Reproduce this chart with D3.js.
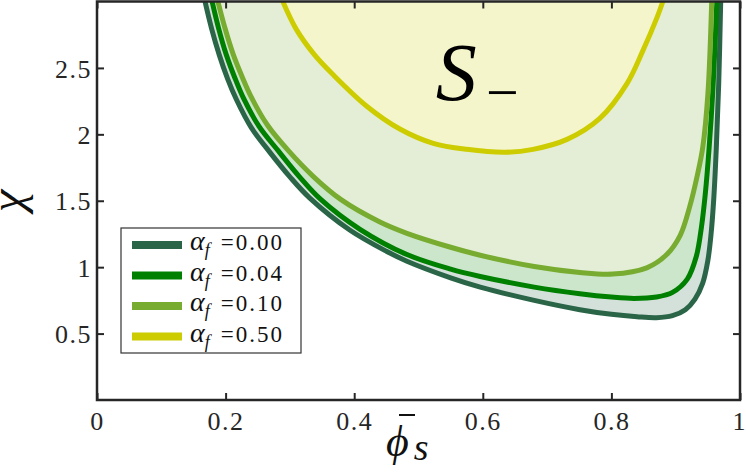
<!DOCTYPE html>
<html>
<head>
<meta charset="utf-8">
<script src="https://cdn.jsdelivr.net/npm/d3@7"></script>
<style>
  html, body { margin: 0; padding: 0; background: #fff; }
  svg { display: block; }
  text { font-family: "Liberation Serif", "Times New Roman", serif; }
</style>
</head>
<body>
<svg id="chart" width="746" height="472"></svg>
<script>
// ---------------- data ----------------
const alphaF = ["0.00", "0.04", "0.10", "0.50"];
const lineColors = ["#2a6548", "#008000", "#77ac30", "#cccc00"];
const fillColors = ["#d4e0da", "#cce6cc", "#e4eed6", "#f5f5cc"];

const phi000 = [0.168, 0.178, 0.190, 0.203, 0.217, 0.240, 0.268, 0.300, 0.331, 0.393, 0.450, 0.482, 0.550, 0.596, 0.680, 0.751, 0.800, 0.840, 0.870, 0.895, 0.915, 0.930, 0.942, 0.950, 0.955, 0.959, 0.963, 0.967, 0.970];
const chi000 = [3.00, 2.80, 2.60, 2.42, 2.26, 2.05, 1.87, 1.68, 1.52, 1.28, 1.12, 1.045, 0.92, 0.85, 0.75, 0.68, 0.645, 0.627, 0.620, 0.635, 0.68, 0.76, 0.88, 1.05, 1.25, 1.50, 1.88, 2.40, 3.00];

const phi004 = [0.179, 0.189, 0.201, 0.214, 0.228, 0.252, 0.282, 0.315, 0.348, 0.409, 0.482, 0.550, 0.596, 0.680, 0.751, 0.800, 0.835, 0.870, 0.895, 0.918, 0.932, 0.940, 0.946, 0.952, 0.958, 0.964];
const chi004 = [3.00, 2.80, 2.60, 2.43, 2.27, 2.06, 1.875, 1.68, 1.51, 1.285, 1.095, 0.985, 0.93, 0.85, 0.80, 0.775, 0.765, 0.775, 0.81, 0.91, 1.08, 1.30, 1.55, 1.90, 2.35, 3.00];

const phi010 = [0.188, 0.199, 0.212, 0.226, 0.240, 0.265, 0.298, 0.337, 0.379, 0.440, 0.482, 0.550, 0.596, 0.680, 0.751, 0.802, 0.855, 0.886, 0.907, 0.922, 0.934, 0.942, 0.950, 0.956];
const chi010 = [3.00, 2.80, 2.60, 2.43, 2.28, 2.07, 1.875, 1.68, 1.51, 1.34, 1.255, 1.15, 1.09, 1.005, 0.96, 0.948, 0.995, 1.095, 1.24, 1.46, 1.70, 1.90, 2.30, 3.00];

const phi050 = [0.289, 0.310, 0.338, 0.367, 0.420, 0.471, 0.523, 0.575, 0.635, 0.678, 0.731, 0.782, 0.824, 0.849, 0.871, 0.880];
const chi050 = [3.00, 2.79, 2.60, 2.45, 2.21, 2.04, 1.932, 1.887, 1.865, 1.887, 1.962, 2.12, 2.38, 2.63, 2.88, 3.00];

const xTicks = [0, 0.2, 0.4, 0.6, 0.8, 1];
const xTickLabels = ["0", "0.2", "0.4", "0.6", "0.8", "1"];
const yTicks = [0.5, 1, 1.5, 2, 2.5];
const yTickLabels = ["0.5", "1", "1.5", "2", "2.5"];

// ---------------- chart ----------------
const svg = d3.select("#chart");
const x = d3.scaleLinear().domain([0, 1]).range([97, 740]);
const y = d3.scaleLinear().domain([0, 3]).range([400, 1.5]);

const series = [
  { phi: phi000, chi: chi000 },
  { phi: phi004, chi: chi004 },
  { phi: phi010, chi: chi010 },
  { phi: phi050, chi: chi050 }
].map((s, i) => ({
  label: alphaF[i],
  color: lineColors[i],
  fill: fillColors[i],
  pts: s.phi.map((p, j) => [p, s.chi[j]])
}));

svg.append("defs").append("clipPath").attr("id", "clip")
  .append("rect")
  .attr("x", x(0)).attr("y", y(3))
  .attr("width", x(1) - x(0)).attr("height", y(0) - y(3));

const line = d3.line().x(d => x(d[0])).y(d => y(d[1])).curve(d3.curveCatmullRom.alpha(0.5));

const plot = svg.append("g").attr("clip-path", "url(#clip)");

series.forEach(s => {
  plot.append("path")
    .attr("d", line(s.pts) + "Z")
    .attr("fill", s.fill)
    .attr("stroke", "none");
});
series.forEach(s => {
  plot.append("path")
    .attr("d", line(s.pts))
    .attr("fill", "none")
    .attr("stroke", s.color)
    .attr("stroke-width", 5)
    .attr("stroke-linejoin", "round");
});

// region label
const lab = svg.append("text")
  .attr("x", x(0.527)).attr("y", y(2.26))
  .attr("font-size", 82)
  .attr("fill", "#000");
lab.append("tspan").attr("font-style", "italic").text("S");
lab.append("tspan").attr("font-size", 58).attr("x", x(0.605)).attr("dy", 12).text("−");

// ---------------- axes ----------------
const axisColor = "#262626";
const tickFont = 26;

const gx = svg.append("g").attr("transform", `translate(0,${y(0)})`)
  .call(d3.axisBottom(x).tickValues(xTicks).tickFormat((d, i) => xTickLabels[i]).tickSizeInner(-7).tickSizeOuter(0).tickPadding(12));
const gxt = svg.append("g").attr("transform", `translate(0,${y(3)})`)
  .call(d3.axisTop(x).tickValues(xTicks).tickFormat("").tickSizeInner(-7).tickSizeOuter(0));
const gy = svg.append("g").attr("transform", `translate(${x(0)},0)`)
  .call(d3.axisLeft(y).tickValues(yTicks).tickFormat((d, i) => yTickLabels[i]).tickSizeInner(-7).tickSizeOuter(0).tickPadding(12));
const gyr = svg.append("g").attr("transform", `translate(${x(1)},0)`)
  .call(d3.axisRight(y).tickValues(yTicks).tickFormat("").tickSizeInner(-7).tickSizeOuter(0));

[gx, gxt, gy, gyr].forEach(g => {
  g.select(".domain").remove();
  g.selectAll(".tick line").attr("stroke", axisColor).attr("stroke-width", 2);
  g.selectAll(".tick text")
    .attr("fill", axisColor)
    .attr("font-size", tickFont)
    .attr("letter-spacing", "1.5px")
    .attr("font-family", "Liberation Serif, serif");
});
gy.selectAll(".tick text").attr("dy", "0.35em").attr("x", -5);
gx.selectAll(".tick text").attr("y", 10).attr("dy", "0.75em");
gx.selectAll(".tick text").filter((d, i) => i === xTicks.length - 1)
  .attr("letter-spacing", null).attr("text-anchor", "end").attr("dx", 5);

svg.append("rect")
  .attr("x", x(0)).attr("y", y(3))
  .attr("width", x(1) - x(0)).attr("height", y(0) - y(3))
  .attr("fill", "none").attr("stroke", axisColor).attr("stroke-width", 2.5);

// axis labels
svg.append("text")
  .attr("transform", `translate(11,203) rotate(90)`)
  .attr("text-anchor", "middle")
  .attr("font-style", "italic")
  .attr("font-size", 48)
  .attr("fill", "#111")
  .text("χ");

const xl = svg.append("text")
  .attr("x", 386).attr("y", 456)
  .attr("font-style", "italic")
  .attr("font-size", 44)
  .attr("fill", "#111");
xl.append("tspan").text("ϕ");
xl.append("tspan").attr("font-size", 38).attr("dy", 4).attr("dx", 5).text("s");
svg.append("line")
  .attr("x1", 399).attr("x2", 415).attr("y1", 415).attr("y2", 415)
  .attr("stroke", "#111").attr("stroke-width", 2);

// ---------------- legend ----------------
const lg = svg.append("g");
lg.append("rect")
  .attr("x", 121).attr("y", 228).attr("width", 180).attr("height", 125)
  .attr("fill", "#fff").attr("stroke", "#333").attr("stroke-width", 1.2);
series.forEach((s, i) => {
  const cy = 245 + i * 30.5;
  lg.append("line")
    .attr("x1", 132).attr("x2", 182).attr("y1", cy).attr("y2", cy)
    .attr("stroke", s.color).attr("stroke-width", 8);
  const t = lg.append("text")
    .attr("x", 190).attr("y", cy + 5)
    .attr("font-size", 23).attr("fill", "#111");
  t.append("tspan").attr("font-style", "italic").attr("font-size", 28).text("α");
  t.append("tspan").attr("font-style", "italic").attr("font-size", 18).attr("dy", 6).attr("dx", 0).text("f");
  t.append("tspan").attr("dy", -6).attr("dx", 11).attr("letter-spacing", "2px").text("=" + s.label);
});
</script>
</body>
</html>
